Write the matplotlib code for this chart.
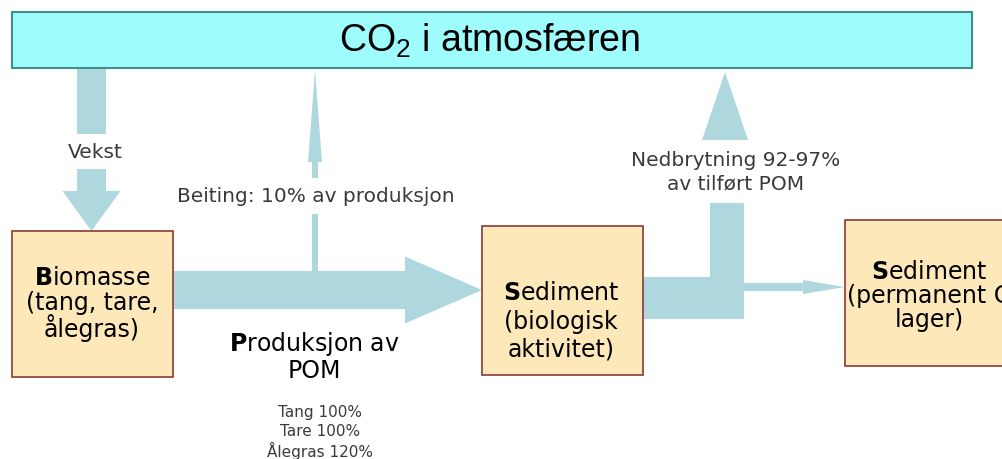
import matplotlib.pyplot as plt
from matplotlib.patches import Rectangle, FancyArrow

# Text content of the diagram
title = r"CO$_\mathregular{2}$ i atmosfæren"
biomasse_lines = [r"$\mathbf{B}$iomasse", "(tang, tare,", "ålegras)"]
sediment_lines = [r"$\mathbf{S}$ediment", "(biologisk", "aktivitet)"]
perm_lines = [r"$\mathbf{S}$ediment", "(permanent C", "lager)"]
pom_lines = [r"$\mathbf{P}$roduksjon av", "POM"]
pom_shares = ["Tang 100%", "Tare 100%", "Ålegras 120%"]
vekst_label = "Vekst"
beiting_label = "Beiting: 10% av produksjon"
nedbryt_lines = ["Nedbrytning 92-97%", "av tilført POM"]

# colours
sky_fill = "#9ffcfc"
sky_edge = "#3f8f8f"
box_fill = "#fde8b9"
box_edge = "#8a3a34"
flow = "#aed8de"
label_col = "#3a3a3a"

fig = plt.figure(figsize=(10.03, 4.59), dpi=100)
ax = fig.add_axes([0, 0, 1, 1])
ax.set_xlim(0, 1003)
ax.set_ylim(459, 0)
ax.axis("off")

# atmosphere box
ax.add_patch(Rectangle((12, 12), 960, 56, facecolor=sky_fill, edgecolor=sky_edge, lw=1.5, zorder=3))
ax.text(490, 52, title, fontsize=27, family="Liberation Sans", ha="center", va="baseline", zorder=4)

# Vekst arrow (down into biomass)
ax.add_patch(Rectangle((77, 68), 29, 66, facecolor=flow, edgecolor="none"))
ax.add_patch(FancyArrow(91.5, 169, 0, 62, width=29, head_width=58, head_length=40,
                        length_includes_head=True, color=flow, lw=0))
ax.text(95, 153, vekst_label, fontsize=14.5, color=label_col, ha="center", va="center")

# main POM arrow
ax.add_patch(FancyArrow(173, 290, 309, 0, width=38, head_width=67, head_length=77,
                        length_includes_head=True, color=flow, lw=0))

# Beiting arrow (thin, up)
ax.add_patch(Rectangle((312, 214), 6, 58, facecolor=flow, edgecolor="none"))
ax.add_patch(FancyArrow(315, 178, 0, -108, width=6, head_width=14, head_length=92,
                        length_includes_head=True, color=flow, lw=0))
ax.text(316, 196, beiting_label, fontsize=14.5, color=label_col, ha="center", va="center")

# Nedbrytning L-arrow
ax.add_patch(Rectangle((643, 277), 101, 42, facecolor=flow, edgecolor="none"))
ax.add_patch(Rectangle((710, 203), 34, 116, facecolor=flow, edgecolor="none"))
ax.add_patch(FancyArrow(725, 140, 0, -68, width=0.1, head_width=46, head_length=68,
                        length_includes_head=True, color=flow, lw=0))
ax.text(736, 160, nedbryt_lines[0], fontsize=14.5, color=label_col, ha="center", va="center")
ax.text(736, 184, nedbryt_lines[1], fontsize=14.5, color=label_col, ha="center", va="center")

# thin arrow to permanent storage
ax.add_patch(FancyArrow(744, 287, 101, 0, width=8, head_width=14, head_length=42,
                        length_includes_head=True, color=flow, lw=0))

# boxes
boxes = [(12, 231, 161, 146, biomasse_lines, 92, [278, 303, 328]),
         (482, 226, 161, 149, sediment_lines, 561, [293, 322, 350]),
         (845, 220, 200, 146, perm_lines, 929, [272, 296, 320])]
for x, y, w, h, lines, cx, ys in boxes:
    ax.add_patch(Rectangle((x, y), w, h, facecolor=box_fill, edgecolor=box_edge, lw=1.2, zorder=3))
    for s, ty in zip(lines, ys):
        ax.text(cx, ty, s, fontsize=17, ha="center", va="center", zorder=4,
                math_fontfamily="dejavusans")

# POM label under main arrow
ax.text(314, 344, pom_lines[0], fontsize=17, ha="center", va="center", math_fontfamily="dejavusans")
ax.text(314, 371, pom_lines[1], fontsize=17, ha="center", va="center")
for s, ty in zip(pom_shares, [412, 432, 451]):
    ax.text(320, ty, s, fontsize=11, color=label_col, ha="center", va="center")

fig.savefig("out.png", dpi=100)
